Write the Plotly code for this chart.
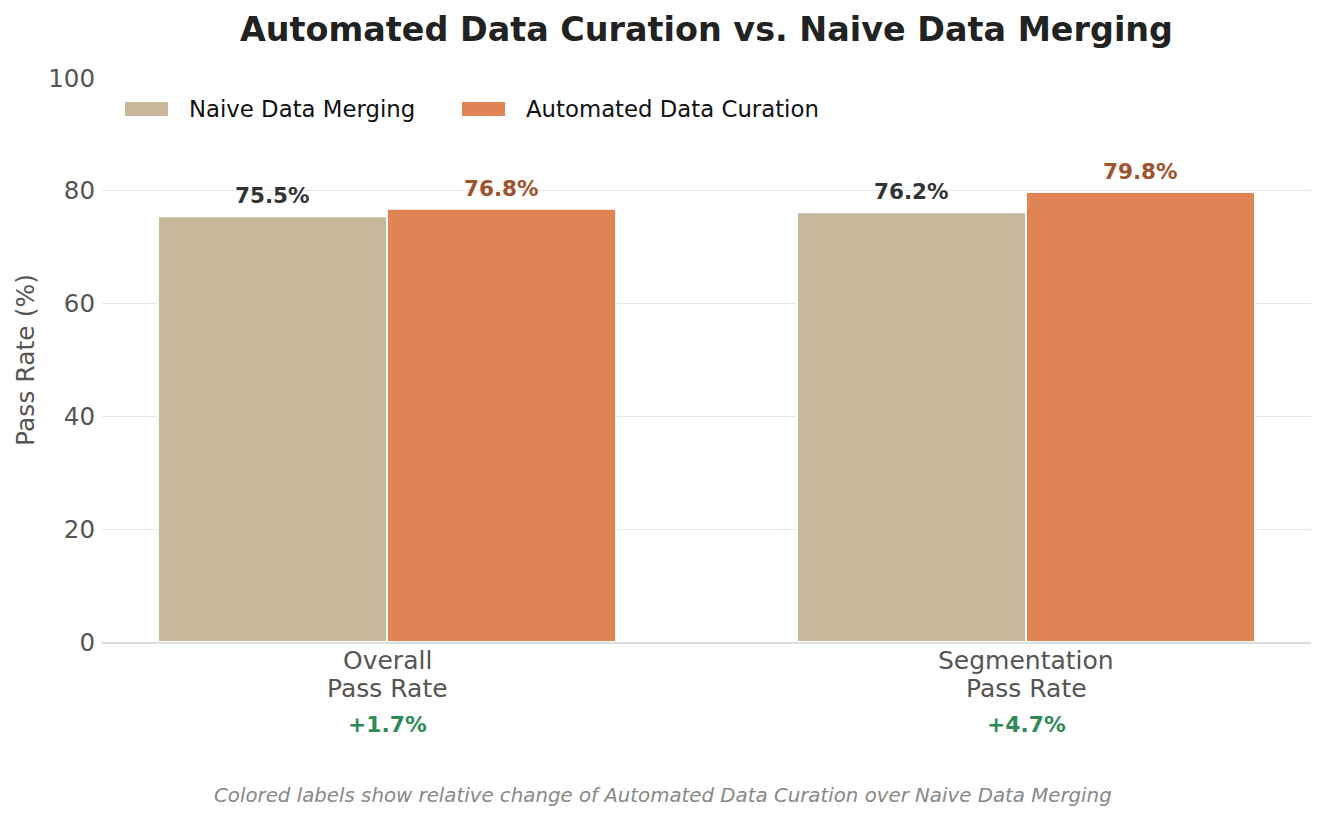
import plotly.graph_objects as go

categories = ["Overall<br>Pass Rate", "Segmentation<br>Pass Rate"]
naive_values = [75.5, 76.2]
curated_values = [76.8, 79.8]
delta_labels = ["+1.7%", "+4.7%"]
series_names = ["Naive Data Merging", "Automated Data Curation"]

NAIVE_C = "#C8B89A"
AUTO_C = "#DF8452"
FONT = "DejaVu Sans"

W, H = 1326, 819
L, R, T, B = 102, 15, 78, 177
PW, PH = W - L - R, H - T - B


def px_x(px):
    return (px - L) / PW


def px_y(py):
    return (H - B - py) / PH


fig = go.Figure()
fig.add_trace(go.Bar(x=categories, y=naive_values, name=series_names[0],
                     marker=dict(color=NAIVE_C, line=dict(color="white", width=2)),
                     offsetgroup="a", showlegend=False))
fig.add_trace(go.Bar(x=categories, y=curated_values, name=series_names[1],
                     marker=dict(color=AUTO_C, line=dict(color="white", width=2)),
                     offsetgroup="b", showlegend=False))

ann = []
shapes = []
bw = 0.3585
for i, c in enumerate(categories):
    ann.append(dict(x=i - bw / 2, y=naive_values[i], xref="x", yref="y",
                    text=f"<b>{naive_values[i]:.1f}%</b>", showarrow=False,
                    yanchor="bottom", yshift=6,
                    font=dict(family=FONT, size=21.5, color="#333333")))
    ann.append(dict(x=i + bw / 2, y=curated_values[i], xref="x", yref="y",
                    text=f"<b>{curated_values[i]:.1f}%</b>", showarrow=False,
                    yanchor="bottom", yshift=6,
                    font=dict(family=FONT, size=21.5, color="#A0522D")))
    for j, line in enumerate(c.split("<br>")):
        ann.append(dict(x=i, y=px_y(660 + 28 * j), xref="x", yref="paper", text=line,
                        showarrow=False, yanchor="middle",
                        font=dict(family=FONT, size=25, color="#555555")))
    ann.append(dict(x=i, y=px_y(724), xref="x", yref="paper", text=f"<b>{delta_labels[i]}</b>",
                    showarrow=False, yanchor="middle",
                    font=dict(family=FONT, size=21.8, color="#2E8B57")))

ann.append(dict(x=px_x(663), y=px_y(795), xref="paper", yref="paper",
                text="<i>Colored labels show relative change of Automated Data Curation over Naive Data Merging</i>",
                showarrow=False, yanchor="middle", xanchor="center",
                font=dict(family=FONT, size=19.8, color="#888888")))

leg_items = [(series_names[0], NAIVE_C, 125, 187), (series_names[1], AUTO_C, 462, 524)]
for name, col, rx, tx in leg_items:
    shapes.append(dict(type="rect", xref="paper", yref="paper",
                       x0=px_x(rx), x1=px_x(rx + 43), y0=px_y(116), y1=px_y(102),
                       fillcolor=col, line=dict(width=0)))
    ann.append(dict(x=px_x(tx), y=px_y(109), xref="paper", yref="paper", text=name,
                    showarrow=False, xanchor="left", yanchor="middle",
                    font=dict(family=FONT, size=22.8, color="#111111")))

fig.update_layout(
    width=W, height=H,
    margin=dict(l=L, r=R, t=T, b=B),
    paper_bgcolor="white", plot_bgcolor="white",
    font=dict(family=FONT, size=25, color="#555555"),
    title=dict(text="<b>Automated Data Curation vs. Naive Data Merging</b>",
               x=706.5 / W, xanchor="center", y=1 - 29.5 / H, yanchor="middle",
               font=dict(family=FONT, size=33.4, color="#222222")),
    barmode="group", bargap=0.283, bargroupgap=0.0,
    annotations=ann, shapes=shapes,
    showlegend=False,
)
fig.update_xaxes(range=[-0.446, 1.446], showgrid=False, showline=True,
                 linecolor="#dddddd", linewidth=2, ticks="", showticklabels=False)
fig.update_yaxes(range=[0, 100], dtick=20, showgrid=True, gridcolor="#e6e6e6",
                 gridwidth=1, zeroline=False, showline=False,
                 ticks="", ticklabelstandoff=6,
                 tickfont=dict(family=FONT, size=24.5, color="#555555"),
                 title=dict(text="Pass Rate (%)", font=dict(family=FONT, size=25, color="#555555"),
                            standoff=6))

fig.write_html("out.html")
